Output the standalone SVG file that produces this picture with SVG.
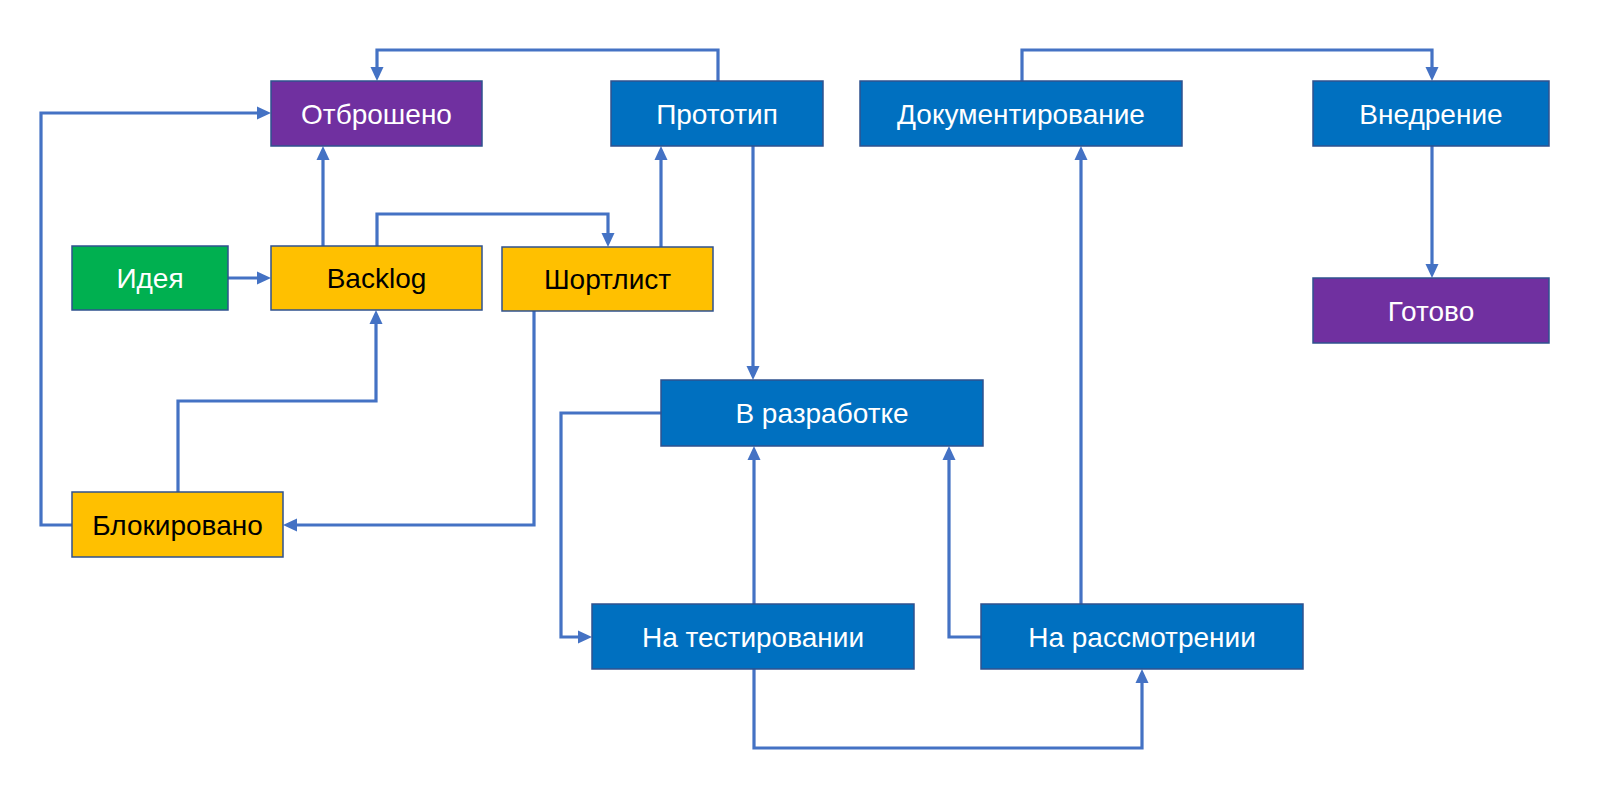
<svg xmlns="http://www.w3.org/2000/svg" width="1600" height="790" viewBox="0 0 1600 790">
<style>
.n rect{stroke:#2F528F;stroke-width:1.5}
.p{fill:#7030A0}.b{fill:#0070C0}.g{fill:#00B050}.y{fill:#FFC000}
text{font-family:"Liberation Sans",Arial,sans-serif;font-size:28px;text-anchor:middle}
.w{fill:#FFFFFF}.k{fill:#000000}
.c path{fill:none;stroke:#4472C4;stroke-width:3.2;marker-end:url(#ah)}
</style>
<defs>
<marker id="ah" markerUnits="userSpaceOnUse" markerWidth="14" markerHeight="14" refX="7" refY="7" orient="auto">
<path d="M0,0.5 L14,7 L0,13.5 Z" fill="#4472C4"/>
</marker>
</defs>
<rect width="1600" height="790" fill="#FFFFFF"/>
<g class="c" id="connectors">
<path d="M228,278 H264"/>
<path d="M323,246 V153"/>
<path d="M377,246 V214 H608 V240"/>
<path d="M661,247 V153"/>
<path d="M718,81 V50 H377 V74"/>
<path d="M753,146 V373"/>
<path d="M534,311 V525 H290"/>
<path d="M178,492 V401 H376 V317"/>
<path d="M72,525 H41 V113 H264"/>
<path d="M661,413 H561 V637 H585"/>
<path d="M754,604 V453"/>
<path d="M754,669 V748 H1142 V676"/>
<path d="M981,637 H949 V453"/>
<path d="M1081,604 V153"/>
<path d="M1022,81 V50 H1432 V74"/>
<path d="M1432,146 V271"/>
</g>
<g class="n" id="otbrosheno"><rect class="p" x="271" y="81" width="211" height="65"/><text class="w" x="376.5" y="123.5">Отброшено</text></g>
<g class="n" id="prototip"><rect class="b" x="611" y="81" width="212" height="65"/><text class="w" x="717" y="123.5">Прототип</text></g>
<g class="n" id="dokumentirovanie"><rect class="b" x="860" y="81" width="322" height="65"/><text class="w" x="1021" y="123.5">Документирование</text></g>
<g class="n" id="vnedrenie"><rect class="b" x="1313" y="81" width="236" height="65"/><text class="w" x="1431" y="123.5">Внедрение</text></g>
<g class="n" id="ideya"><rect class="g" x="72" y="246" width="156" height="64"/><text class="w" x="150" y="288">Идея</text></g>
<g class="n" id="backlog"><rect class="y" x="271" y="246" width="211" height="64"/><text class="k" x="376.5" y="288">Backlog</text></g>
<g class="n" id="shortlist"><rect class="y" x="502" y="247" width="211" height="64"/><text class="k" x="607.5" y="289">Шортлист</text></g>
<g class="n" id="gotovo"><rect class="p" x="1313" y="278" width="236" height="65"/><text class="w" x="1431" y="320.5">Готово</text></g>
<g class="n" id="v-razrabotke"><rect class="b" x="661" y="380" width="322" height="66"/><text class="w" x="822" y="423">В разработке</text></g>
<g class="n" id="blokirovano"><rect class="y" x="72" y="492" width="211" height="65"/><text class="k" x="177.5" y="534.5">Блокировано</text></g>
<g class="n" id="na-testirovanii"><rect class="b" x="592" y="604" width="322" height="65"/><text class="w" x="753" y="646.5">На тестировании</text></g>
<g class="n" id="na-rassmotrenii"><rect class="b" x="981" y="604" width="322" height="65"/><text class="w" x="1142" y="646.5">На рассмотрении</text></g>
</svg>
